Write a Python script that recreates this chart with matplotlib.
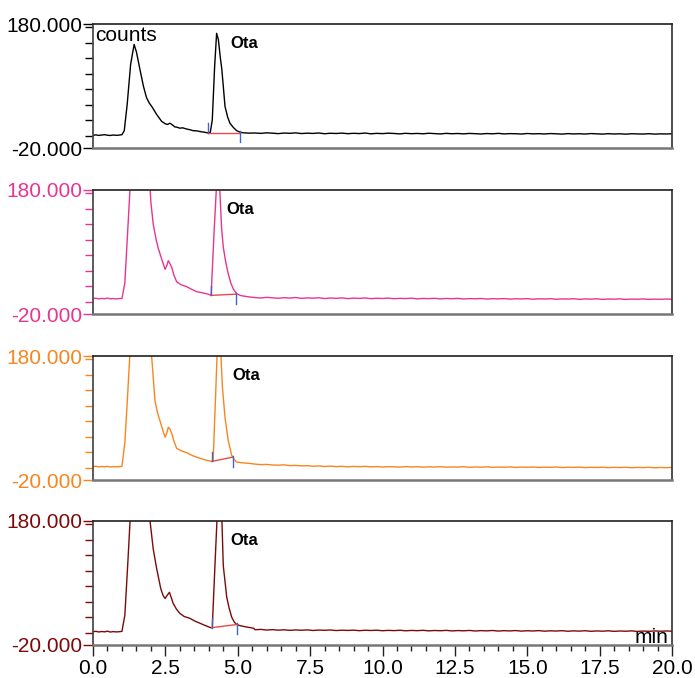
# chromatogram stack, 4 runs (Ota peak)
import numpy as np
import matplotlib
matplotlib.use('Agg');
import matplotlib.pyplot as plt
from matplotlib.ticker import MultipleLocator, FormatStrFormatter

plt.rcParams['font.family'] = ['Liberation Sans', 'DejaVu Sans'];

# ---- data ----
pre_t = [0.0, 0.1, 0.2, 0.3, 0.4, 0.5, 0.6, 0.7, 0.8, 0.9];

pre1 = [0.5, 1.2, 0.3, 0.9, 1.5, 0.6, 0.2, 1.0, 0.4, 0.8];
pre2 = [4.8, 5.5, 4.3, 5.1, 4.6, 5.7, 4.4, 5.0, 4.2, 4.9];
pre3 = [1.6, 2.2, 1.1, 1.8, 1.3, 2.0, 0.9, 1.7, 1.2, 1.5];
pre4 = [1.5, 2.1, 1.0, 1.8, 1.2, 2.3, 0.9, 1.6, 1.1, 1.4];

peak1_t = [1.0, 1.08, 1.18, 1.3, 1.42, 1.5, 1.62, 1.74, 1.85, 1.95, 2.03, 2.2, 2.37, 2.5,
           2.57, 2.66, 2.75, 2.83, 2.9, 3.0, 3.1, 3.24, 3.35, 3.45, 3.6, 3.7, 3.85, 3.95,
           4.05, 4.12, 4.2, 4.27, 4.33, 4.4, 4.45, 4.56, 4.65, 4.73, 4.85, 4.96, 5.08,
           5.19, 5.4];
peak1_y = [1.5, 8, 50, 115, 147, 135, 107, 80, 61, 52, 47, 34, 23, 19,
           18, 20, 17, 14, 13.5, 12, 12.5, 10.5, 9.5, 8, 7.5, 6.5, 5.5, 4.5,
           5, 25, 110, 165, 155, 125, 107, 47, 30, 20, 13, 8, 5.5,
           4.5, 4];

peak2_t = [1.0, 1.1, 1.2, 1.3, 1.5, 1.7, 1.9, 2.0, 2.08, 2.18, 2.26, 2.37, 2.49, 2.55,
           2.6, 2.65, 2.72, 2.8, 2.89, 3.05, 3.24, 3.4, 3.58, 3.8, 3.98, 4.08, 4.18,
           4.27, 4.32, 4.37, 4.44, 4.5, 4.58, 4.67, 4.76, 4.85, 4.96, 5.08, 5.19, 5.4];
peak2_y = [5, 30, 115, 200, 280, 290, 240, 160, 125, 100, 85, 69, 52, 58,
           66, 62, 55, 42, 32, 27, 24, 20, 16, 14, 12, 10, 110,
           190, 215, 190, 120, 88, 65, 45, 30, 20, 13, 10, 9, 7.5];

peak3_t = [1.0, 1.1, 1.2, 1.3, 1.5, 1.7, 1.9, 2.05, 2.14, 2.22, 2.31, 2.4, 2.49, 2.55,
           2.6, 2.66, 2.72, 2.8, 2.89, 3.05, 3.24, 3.45, 3.7, 3.9, 4.1, 4.15, 4.23,
           4.3, 4.35, 4.4, 4.47, 4.56, 4.67, 4.79, 4.88, 4.96, 5.1, 5.42];
peak3_y = [2, 40, 120, 205, 290, 300, 250, 165, 108, 90, 76, 62, 49, 56,
           65, 62, 55, 42, 31, 27, 24, 19, 15, 12, 10, 12, 110,
           200, 220, 200, 130, 81, 44, 20, 13, 9, 8, 6.7];

peak4_t = [1.0, 1.1, 1.2, 1.28, 1.5, 1.7, 1.9, 1.97, 2.08, 2.2, 2.34, 2.42, 2.49, 2.56,
           2.64, 2.7, 2.77, 2.88, 3.0, 3.15, 3.35, 3.5, 3.7, 3.9, 4.06, 4.12, 4.2,
           4.3, 4.37, 4.44, 4.5, 4.62, 4.7, 4.79, 4.88, 4.96, 5.1, 5.31, 5.55];
peak4_y = [2, 28, 110, 180, 280, 290, 230, 180, 135, 103, 71, 60, 55, 60,
           65, 57, 47, 38, 31, 26, 23, 19, 15, 11, 8, 8, 95,
           200, 220, 200, 108, 57, 40, 25, 17, 13, 11, 9, 7];

# tail sampled every 0.2 min from 5.6 to 20.0
tail_t = np.round(np.arange(5.6, 20.01, 0.2), 2);

tail1 = [4.2, 3.6, 4.5, 3.9, 3.2, 4.1, 3.7, 4.4, 3.3, 3.9,
         3.5, 4.2, 3.0, 3.8, 3.4, 4.0, 3.1, 3.7, 3.3, 4.1,
         2.9, 3.6, 3.2, 3.9, 3.4, 2.8, 3.7, 3.1, 3.5, 2.9,
         3.8, 3.2, 2.7, 3.6, 3.0, 3.4, 2.8, 3.5, 3.1, 2.6,
         3.3, 2.9, 3.6, 2.7, 3.2, 3.0, 2.5, 3.4, 2.8, 3.1,
         2.6, 3.3, 2.9, 2.4, 3.2, 2.7, 3.0, 2.5, 3.3, 2.8,
         2.4, 3.1, 2.6, 2.9, 2.3, 3.0, 2.7, 2.5, 3.1, 2.4,
         2.8, 2.6, 3.0];
tail2 = [6.5, 5.8, 6.9, 6.1, 5.4, 6.3, 5.7, 6.6, 5.2, 6.0,
         5.5, 6.2, 4.9, 5.8, 5.3, 6.0, 4.8, 5.6, 5.1, 5.9,
         4.7, 5.4, 5.0, 5.7, 4.6, 5.2, 4.9, 5.5, 4.4, 5.1,
         4.8, 5.3, 4.3, 5.0, 4.6, 5.2, 4.2, 4.9, 4.5, 5.0,
         4.1, 4.7, 4.4, 4.9, 4.0, 4.6, 4.3, 4.8, 3.9, 4.5,
         4.2, 4.7, 3.8, 4.4, 4.1, 4.6, 3.7, 4.3, 4.0, 4.5,
         3.6, 4.2, 3.9, 4.4, 3.5, 4.1, 3.8, 4.3, 3.6, 4.0,
         3.7, 4.2, 3.8];
tail3 = [5.6, 4.8, 5.1, 4.2, 3.9, 4.4, 3.3, 3.6, 2.8, 3.1,
         2.2, 2.7, 1.8, 2.4, 1.5, 2.1, 1.2, 1.9, 1.4, 2.0,
         1.1, 1.7, 0.9, 1.5, 1.2, 0.8, 1.6, 1.0, 1.4, 0.7,
         1.3, 0.9, 1.5, 0.6, 1.1, 0.8, 1.4, 0.5, 1.0, 0.7,
         1.2, 0.4, 0.9, 0.6, 1.1, 0.3, 0.8, 0.5, 1.0, 0.2,
         0.7, 0.4, 0.9, 0.1, 0.6, 0.3, 0.8, 0.0, 0.5, 0.2,
         0.7, -0.1, 0.4, 0.1, 0.6, -0.2, 0.3, 0.0, 0.5, -0.3,
         0.2, -0.1, 0.3];
tail4 = [4.6, 5.2, 4.1, 4.8, 3.9, 4.5, 3.6, 4.3, 3.8, 4.4,
         3.4, 4.1, 3.7, 4.2, 3.3, 3.9, 3.5, 4.0, 3.1, 3.8,
         3.4, 3.9, 3.0, 3.6, 3.2, 3.8, 2.9, 3.5, 3.1, 3.7,
         2.8, 3.4, 3.0, 3.6, 2.7, 3.3, 2.9, 3.5, 2.6, 3.2,
         2.8, 3.4, 2.5, 3.1, 2.7, 3.3, 2.4, 3.0, 2.6, 3.2,
         2.3, 2.9, 2.5, 3.1, 2.2, 2.8, 2.4, 3.0, 2.1, 2.7,
         2.3, 2.9, 2.0, 2.6, 2.2, 2.8, 1.9, 2.5, 2.1, 2.7,
         2.2, 2.6, 2.3];

# integration baselines (start, end) for the Ota peak
base_t = [(3.97, 5.08), (4.08, 4.94), (4.11, 4.84), (4.10, 4.96)];
base_y = [(5.0, 5.0), (10.0, 12.0), (10.0, 17.0), (8.0, 13.0)];
label_t = [4.73, 4.60, 4.80, 4.73];
label_y = [149, 148, 148, 148];

colors = ['#000000', '#e8358f', '#f7861f', '#7d0a0a'];
pres = [pre1, pre2, pre3, pre4];
peaks_t = [peak1_t, peak2_t, peak3_t, peak4_t];
peaks_y = [peak1_y, peak2_y, peak3_y, peak4_y];
tails = [tail1, tail2, tail3, tail4];

# ---- figure ----
fig = plt.figure(figsize=(6.95, 6.78), dpi=100);
left = 93/695;
width = 579/695;
height = 124/678;
bottoms_px = [148, 314, 480, 645];

for k in range(4):
    ax = fig.add_axes([left, 1 - bottoms_px[k]/678, width, height]);
    c = colors[k];

    t = list(pre_t) + list(peaks_t[k]) + list(tail_t);
    y = list(pres[k]) + list(peaks_y[k]) + list(tails[k]);
    ax.plot(t, y, color=c, lw=1.0);

    # integration baseline + markers
    (t0, t1), (y0, y1) = base_t[k], base_y[k];
    ax.plot([t0, t1], [y0, y1], color='#f04848', lw=1.0);
    ax.plot([t0, t0], [y0, y0 + 15], color='#3f66c4', lw=1.0);
    ax.plot([t1, t1], [y1 + 2, y1 - 16], color='#3f66c4', lw=1.0);

    ax.text(label_t[k], label_y[k], 'Ota', fontsize=12, fontweight='bold',
            ha='left', va='center');

    ax.set_xlim(0, 20);
    ax.set_ylim(-20, 180);

    ax.set_yticks([-20, 180]);
    ax.yaxis.set_minor_locator(MultipleLocator(25));
    ax.yaxis.set_major_formatter(FormatStrFormatter('%.3f'));
    ax.tick_params(axis='y', which='major', direction='out', length=7, width=1,
                   color=c, labelcolor=c, labelsize=15, pad=1);
    ax.tick_params(axis='y', which='minor', direction='out', length=5.5, width=1,
                   color=c);

    ax.spines['top'].set_color('#202020');
    ax.spines['right'].set_color('#303030');
    ax.spines['left'].set_color('#404040');
    ax.spines['bottom'].set_color('#777777');
    ax.spines['bottom'].set_linewidth(1.8);
    for s in ['top', 'right', 'left']:
        ax.spines[s].set_linewidth(1.2);

    if k < 3:
        ax.tick_params(axis='x', which='both', bottom=False, labelbottom=False);
    else:
        ax.xaxis.set_major_locator(MultipleLocator(2.5));
        ax.xaxis.set_minor_locator(MultipleLocator(0.5));
        ax.xaxis.set_major_formatter(FormatStrFormatter('%.1f'));
        ax.tick_params(axis='x', which='major', direction='out', length=8, width=1,
                       color='#222222', labelsize=15, pad=2);
        ax.tick_params(axis='x', which='minor', direction='out', length=4, width=1,
                       color='#222222');
        ax.text(0.993, 0.016, 'min', transform=ax.transAxes, fontsize=15,
                ha='right', va='baseline');

    if k == 0:
        ax.text(0.004, 0.91, 'counts', transform=ax.transAxes, fontsize=15,
                ha='left', va='center');

fig.savefig('out.png', dpi=100);
